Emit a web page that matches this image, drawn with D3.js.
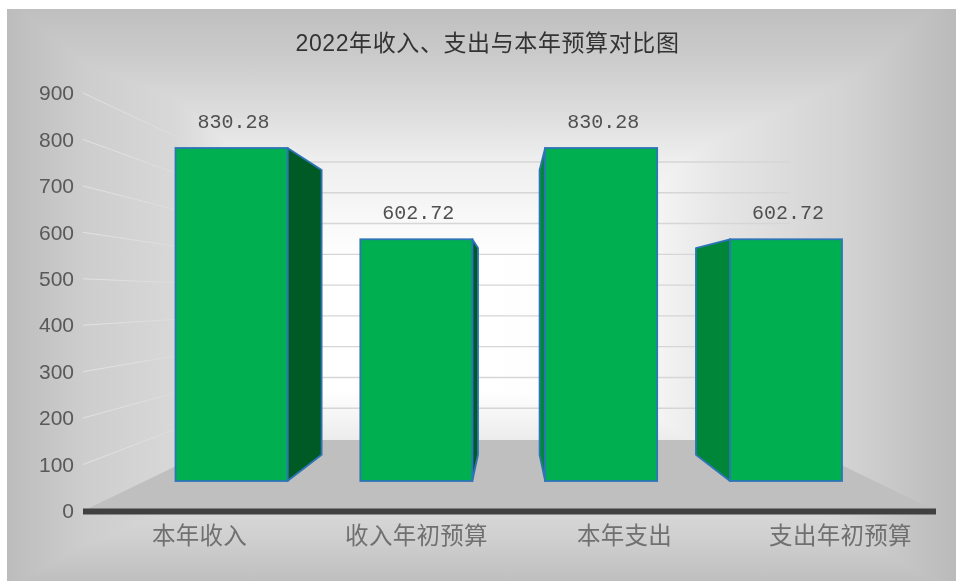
<!DOCTYPE html>
<html>
<head>
<meta charset="utf-8">
<title>2022年收入、支出与本年预算对比图</title>
<script src="https://d3js.org/d3.v7.min.js"></script>
<style>
    html, body { margin: 0; padding: 0; background: #fff; overflow: hidden; }
    svg { display: block; filter: blur(0.45px); }
    text { font-family: "Liberation Sans", "Noto Sans CJK SC", sans-serif; }
    .blend { mix-blend-mode: darken; }
</style>
</head>
<body>
<script>
    var chartTitle = "2022年收入、支出与本年预算对比图";
    var categories = ["本年收入", "收入年初预算", "本年支出", "支出年初预算"];
    var values = [830.28, 602.72, 830.28, 602.72];
    var valueLabels = ["830.28", "602.72", "830.28", "602.72"];
    var yTicks = [0, 100, 200, 300, 400, 500, 600, 700, 800, 900];

    var width = 956, height = 581;
    var panel = {x: 7, y: 9, w: 949, h: 572};

    var svg = d3.select("body").append("svg")
        .attr("width", width)
        .attr("height", height);

    // scales: front of the box, back wall, and the plane the bars stand on
    var yFront = d3.scaleLinear().domain([0, 900]).range([511, 93]);
    var yBack = d3.scaleLinear().domain([0, 900]).range([439, 162]);
    var yBar = d3.scaleLinear().domain([0, 830.28]).range([481, 148]);
    var xBar = d3.scaleBand().domain(categories).range([175.5, 842]).paddingInner(0.394);
    var xLabel = d3.scaleOrdinal().domain(categories).range([199, 416, 624, 840]);

    var boxLeft = 83, boxRight = 936, backLeft = 230, backRight = 790;

    // bar depth: back face is the front face shrunk towards a vanishing point
    var vanish = {x: 509, y: 300}, depthX = 0.846, depthY = 0.855;
    function backX(x) { return vanish.x + (x - vanish.x) * depthX; }
    function backY(y) { return vanish.y + (y - vanish.y) * depthY; }

    // background, a rectangular fade made of two gradients
    var defs = svg.append("defs");
    function gradient(id, horizontal, a, b, stops) {
        var g = defs.append("linearGradient").attr("id", id)
            .attr("gradientUnits", "userSpaceOnUse")
            .attr("x1", horizontal ? a : 0).attr("x2", horizontal ? b : 0)
            .attr("y1", horizontal ? 0 : a).attr("y2", horizontal ? 0 : b);
        stops.forEach(function(s) {
            g.append("stop").attr("offset", (s[0] - a) / (b - a)).attr("stop-color", s[1]);
        });
    }
    gradient("bgH", true, 7, 956, [[7, "#bcbcbc"], [83, "#cdcdcd"], [175, "#d8d8d8"], [300, "#ffffff"],
        [500, "#ffffff"], [650, "#f6f6f6"], [720, "#e6e6e6"], [790, "#dbdbdb"], [850, "#d2d2d2"], [956, "#bababa"]]);
    gradient("bgV", false, 9, 581, [[9, "#bfbfbf"], [60, "#cccccc"], [110, "#dcdcdc"], [162, "#efefef"], [260, "#ffffff"],
        [390, "#ffffff"], [440, "#ececec"], [510, "#d8d8d8"], [540, "#cfcfcf"], [581, "#bfbfbf"]]);
    // side wall lines die out towards the bars
    var fade = defs.append("linearGradient").attr("id", "wallLine")
        .attr("gradientUnits", "userSpaceOnUse")
        .attr("x1", boxLeft).attr("x2", backLeft).attr("y1", 0).attr("y2", 0);
    fade.append("stop").attr("offset", 0).attr("stop-color", "#e2e2e2");
    fade.append("stop").attr("offset", 0.6).attr("stop-color", "#dcdcdc");
    fade.append("stop").attr("offset", 1).attr("stop-color", "#dcdcdc").attr("stop-opacity", 0);

    var bg = svg.append("g").style("isolation", "isolate");
    bg.append("rect").attr("x", panel.x).attr("y", panel.y).attr("width", panel.w).attr("height", panel.h)
        .attr("fill", "url(#bgH)");
    bg.append("rect").attr("class", "blend").attr("x", panel.x).attr("y", panel.y).attr("width", panel.w).attr("height", panel.h)
        .attr("fill", "url(#bgV)");

    // back wall grid
    svg.append("g").selectAll("line")
        .data(yTicks.filter(function(d) { return d > 0; }))
        .enter().append("line")
        .attr("x1", backLeft).attr("x2", backRight)
        .attr("y1", function(d) { return yBack(d); })
        .attr("y2", function(d) { return yBack(d); })
        .attr("stroke", "#d6d6d6").attr("stroke-width", 1.4);

    // side wall grid
    svg.append("g").selectAll("line")
        .data(yTicks.filter(function(d) { return d > 0; }))
        .enter().append("line")
        .attr("x1", boxLeft).attr("x2", backLeft)
        .attr("y1", function(d) { return yFront(d); })
        .attr("y2", function(d) { return yBack(d); })
        .attr("stroke", "url(#wallLine)").attr("stroke-width", 1);

    // floor
    svg.append("polygon")
        .attr("points", [[boxLeft, yFront(0)], [backLeft, yBack(0) + 1], [backRight, yBack(0) + 1], [boxRight, yFront(0)]].join(" "))
        .attr("fill", "#bfbfbf");

    // bars
    var bars = svg.append("g").selectAll("g")
        .data(categories)
        .enter().append("g");

    bars.append("polygon")
        .attr("points", function(d, i) {
            var x0 = xBar(d), x1 = x0 + xBar.bandwidth();
            var edge = x1 < vanish.x ? x1 : x0;
            var top = yBar(values[i]), bottom = yBar(0);
            return [[edge, top], [backX(edge), backY(top)], [backX(edge), backY(bottom)], [edge, bottom]].join(" ");
        })
        .attr("fill", function(d) {
            return xBar(d) + xBar.bandwidth() < vanish.x ? "#005a26" : "#008639";
        })
        .attr("stroke", "#2e75b6").attr("stroke-width", 1.8).attr("stroke-linejoin", "round");

    bars.append("rect")
        .attr("x", function(d) { return xBar(d); })
        .attr("y", function(d, i) { return yBar(values[i]); })
        .attr("width", xBar.bandwidth())
        .attr("height", function(d, i) { return yBar(0) - yBar(values[i]); })
        .attr("fill", "#00b050")
        .attr("stroke", "#2e75b6").attr("stroke-width", 1.8);

    // value labels
    bars.append("text")
        .attr("x", function(d) { return xBar(d) + xBar.bandwidth() / 2 + 2; })
        .attr("y", function(d, i) { return yBar(values[i]) - 20; })
        .attr("text-anchor", "middle")
        .style("font-family", "'Liberation Mono', monospace")
        .attr("font-size", 20)
        .attr("fill", "#505050")
        .text(function(d, i) { return valueLabels[i]; });

    // axes
    var yAxis = svg.append("g")
        .attr("transform", "translate(74,0)")
        .call(d3.axisLeft(yFront).tickValues(yTicks).tickSize(0).tickPadding(0));
    yAxis.select(".domain").remove();
    yAxis.selectAll("text")
        .style("font-family", "'Liberation Sans', sans-serif")
        .attr("font-size", 21)
        .attr("fill", "#595959");

    var xAxis = svg.append("g")
        .attr("transform", "translate(0,511)")
        .call(d3.axisBottom(xLabel).tickSize(0).tickPadding(16));
    xAxis.select(".domain").remove();
    xAxis.selectAll("text")
        .style("font-family", "'Noto Sans CJK SC', sans-serif")
        .style("letter-spacing", "0.3px")
        .attr("font-size", 23.5)
        .attr("fill", "#707070");

    svg.append("line")
        .attr("x1", boxLeft).attr("x2", boxRight)
        .attr("y1", yFront(0) + 0.5).attr("y2", yFront(0) + 0.5)
        .attr("stroke", "#404040").attr("stroke-width", 6);

    // title
    svg.append("text")
        .attr("x", 487.5)
        .attr("y", 51)
        .attr("text-anchor", "middle")
        .attr("font-size", 23)
        .style("letter-spacing", "0.6px")
        .attr("fill", "#333333")
        .text(chartTitle);
</script>
</body>
</html>
